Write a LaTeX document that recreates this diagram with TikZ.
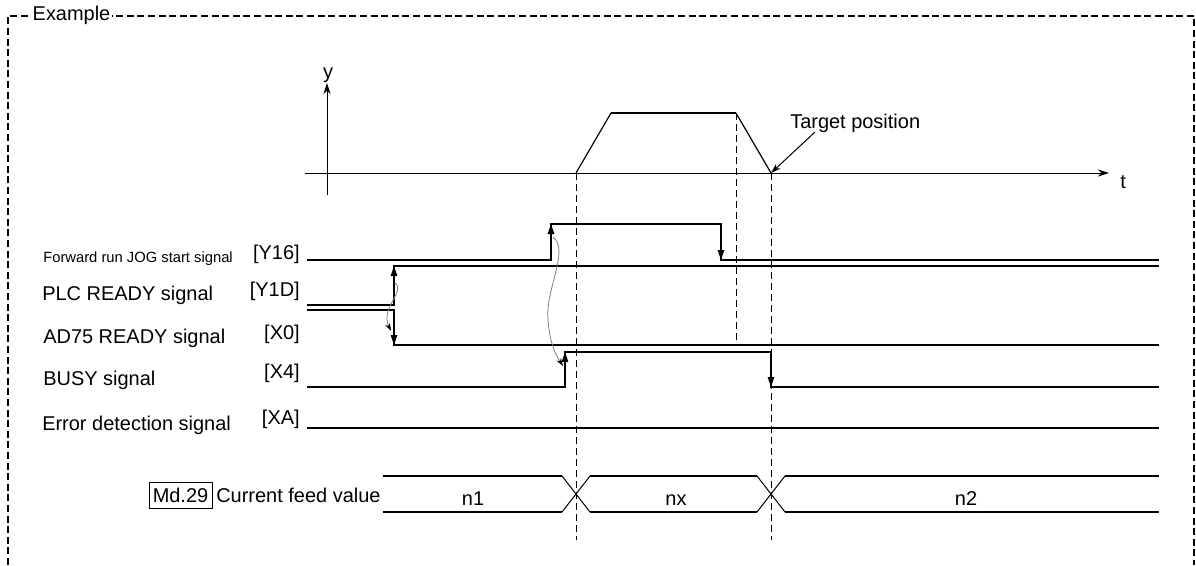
\documentclass[tikz,border=0pt]{standalone}
\usepackage{fontspec}
\setmainfont{Liberation Sans}
\usetikzlibrary{arrows.meta}

\begin{document}
\begin{tikzpicture}[x=0.25mm, y=-0.25mm,
  sig/.style={line width=0.42mm},
  trans/.style={line width=0.42mm, -{Triangle[length=2.5mm,width=1.6mm]}},
  ax/.style={line width=0.25mm},
  guide/.style={line width=0.25mm, dash pattern=on 1.75mm off 1mm},
  cause/.style={draw=gray, line width=0.2mm, -{Stealth[length=2mm,width=1.3mm,color=black]}},
  lbl/.style={font=\fontsize{14.2}{17}\selectfont, anchor=base west, inner sep=0pt},
  lblsm/.style={font=\fontsize{10.5}{12}\selectfont, anchor=base west, inner sep=0pt},
  dev/.style={font=\fontsize{14.2}{17}\selectfont, anchor=base east, inner sep=0pt},
  val/.style={font=\fontsize{14.2}{17}\selectfont, anchor=base, inner sep=0pt}]
\useasboundingbox (0,0) rectangle (1196,565);
% frame
\draw[line width=0.35mm, dash pattern=on 1.75mm off 0.9mm] (8,565) -- (8,16) -- (1194,16) -- (1194,565);
\node[lbl, fill=white, inner xsep=1pt] (ex) at (31,20) {Example};
% speed profile
\coordinate (t0) at (305,173);\coordinate (t1) at (1109,173);
\coordinate (y0) at (327,195);\coordinate (y1) at (327,83);
\draw[ax, -{Stealth[length=2.8mm,width=1.8mm]}] (t0) -- (t1);
\draw[ax, -{Stealth[length=2.8mm,width=1.8mm]}] (y0) -- (y1);
\node[lbl] (tl) at (1120,188) {t};
\node[val] (yl) at (328,78) {y};
\coordinate (v0) at (576,173);\coordinate (v1) at (611,113);
\coordinate (v2) at (736,113);\coordinate (v3) at (771,173);
\draw[line width=0.3mm] (v0) -- (v1);
\draw[sig] (v1) -- (v2);
\draw[line width=0.3mm] (v2) -- (v3);
\node[lbl] (tgt) at (790,128) {Target position};
\coordinate (tgtfoot) at (815,132);
\draw[ax, -{Stealth[length=2.5mm,width=1.6mm]}] (tgtfoot) -- (v3);
% guides
\coordinate (g0) at (576,540);\coordinate (g2) at (736,345);\coordinate (g3) at (771,540);
\draw[guide] (v0) -- (g0);
\draw[guide] (v2) -- (g2);
\draw[guide] (v3) -- (g3);
% signal names
\node[lblsm] (jogname) at (43,262) {Forward run JOG start signal};
\node[dev] (jogdev) at (300,259) {[Y16]};
\node[lbl] (plcname) at (42,300) {PLC READY signal};
\node[dev] (plcdev) at (300,296) {[Y1D]};
\node[lbl] (rdyname) at (43,343) {AD75 READY signal};
\node[dev] (rdydev) at (300,339) {[X0]};
\node[lbl] (busyname) at (43,385) {BUSY signal};
\node[dev] (busydev) at (300,378) {[X4]};
\node[lbl] (errname) at (42,430) {Error detection signal};
\node[dev] (errdev) at (300,424) {[XA]};
% waveforms
\draw[sig] (307,260) -| (551,224) -| (721,260) -- (1159,260);
\draw[trans] (551,244) -- (551,224);
\draw[trans] (721,240) -- (721,260);
\draw[sig] (307,305) -| (394,266) -- (1159,266);
\draw[trans] (394,286) -- (394,266);
\draw[sig] (307,310) -| (394,345) -- (1159,345);
\draw[trans] (394,325) -- (394,345);
\draw[sig] (307,387) -| (565,352) -| (771,387) -- (1159,387);
\draw[trans] (565,372) -- (565,352);
\draw[trans] (771,367) -- (771,387);
\draw[sig] (307,428) -- (1159,428);
\draw[cause] (395,283) .. controls (406,291) and (380,308) .. (391,331);
\draw[cause] (553,237) .. controls (570,250) and (545,290) .. (548,320) .. controls (550,345) and (556,355) .. (563,366);
% current feed value
\node[draw, line width=0.25mm, inner sep=0pt, minimum width=15.75mm, minimum height=6.5mm,
  font=\fontsize{14.2}{17}\selectfont] (md) at (180.5,495) {Md.29};
\node[lbl] (feedname) at (216,502) {Current feed value};
\foreach \a/\b in {383/562, 590/757, 785/1159}
  \draw[sig] (\a,476) -- (\b,476) (\a,512) -- (\b,512);
\foreach \c in {576,771}
  \draw[ax] (\c-14,476) -- (\c+14,512) (\c-14,512) -- (\c+14,476);
\node[val] (n1) at (473,505) {n1};
\node[val] (nx) at (676,505) {nx};
\node[val] (n2) at (966,505) {n2};
\end{tikzpicture}
\end{document}
